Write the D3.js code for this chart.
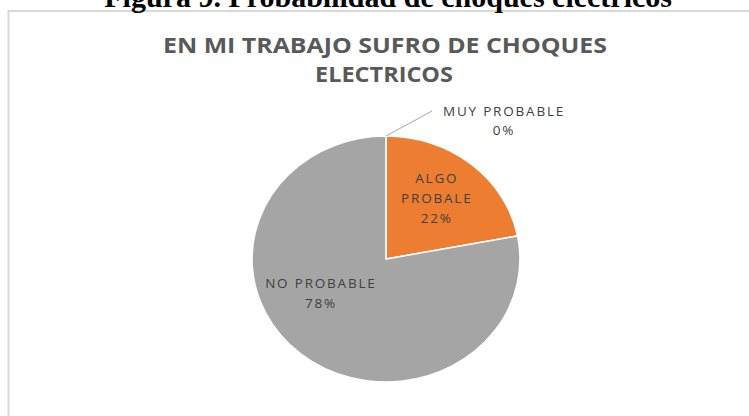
<!DOCTYPE html>
<html>
<head>
<meta charset="utf-8">
<script src="https://cdn.jsdelivr.net/npm/d3@7"></script>
<style>
  body { margin: 0; background: #fff; }
  svg { display: block; }
</style>
</head>
<body>
<div id="chart"></div>
<script>
// Pie of answers to "en mi trabajo sufro de choques electricos"
const categories = ["MUY PROBABLE", "ALGO PROBALE", "NO PROBABLE"]
const values = [0, 22, 78]
const colors = ["#4472c4", "#ed7d31", "#a5a5a5"]
const titleLines = ["EN MI TRABAJO SUFRO DE CHOQUES", "ELECTRICOS"]

const width = 749
const height = 416
// the picture is a bit wider than tall, so the pie is an ellipse
const cx = 386, cy = 259
const ry = 123
const stretch = 134 / 123

var svg = d3.select("#chart").append("svg")
    .attr("width", width)
    .attr("height", height)

// frame of the excel chart (right and bottom edge are off the picture)
svg.append("rect")
    .attr("x", 8.5)
    .attr("y", 11)
    .attr("width", 800)
    .attr("height", 500)
    .attr("fill", "#fff")
    .attr("stroke", "#d9d9d9")
    .attr("stroke-width", 2)

// caption of the figure, only its lower half is in the picture
svg.append("text")
    .attr("x", 672)
    .attr("y", 7)
    .attr("text-anchor", "end")
    .style("font-family", "'Liberation Serif', 'Times New Roman', serif")
    .style("font-weight", "bold")
    .style("font-size", "30px")
    .style("fill", "#000")
    .text("Figura 9. Probabilidad de choques eléctricos")

var title = svg.append("text")
    .attr("text-anchor", "middle")
    .style("font-family", "'Open Sans', sans-serif")
    .style("font-weight", "bold")
    .style("font-size", "21px")
    .style("fill", "#595959")
title.append("tspan").attr("x", 385).attr("y", 53)
    .attr("textLength", 444).attr("lengthAdjust", "spacingAndGlyphs")
    .text(titleLines[0])
title.append("tspan").attr("x", 384).attr("y", 82)
    .attr("textLength", 138).attr("lengthAdjust", "spacingAndGlyphs")
    .text(titleLines[1])

var pie = d3.pie().sort(null).value(d => d)
var arcs = pie(values)

var arc = d3.arc().innerRadius(0).outerRadius(ry)

var g = svg.append("g")
    .attr("transform", "translate(" + cx + "," + cy + ")")

g.append("g")
    .attr("transform", "scale(" + stretch + ",1)")
    .selectAll("path")
    .data(arcs)
    .enter()
    .append("path")
    .attr("d", arc)
    .attr("fill", (d, i) => colors[i])
    .attr("stroke", "#fff")
    .attr("stroke-width", 1.5)

// label radius (fraction of radius) and a small angle shift, like excel places them
const labelRadius = [1.0, 0.625, 0.56]
const labelShift = [0, -0.04, 0.36]

function labelPoint(d, i) {
    var a = (d.startAngle + d.endAngle) / 2 + labelShift[i]
    var r = ry * labelRadius[i]
    return [Math.sin(a) * r * stretch, -Math.cos(a) * r]
}

arcs.forEach(function(d, i) {
    var p = labelPoint(d, i)
    var lines = categories[i].split(" ")
    var pct = Math.round(d.data) + "%"
    var t = g.append("text")
        .attr("text-anchor", "middle")
        .style("font-family", "'Open Sans', sans-serif")
        .style("font-size", "13.5px")
        .style("letter-spacing", "1.8px")
        .style("fill", "#404040")
    if (d.data == 0) {
        // slice of 0% gets a leader line and the label outside
        var lx = p[0] + 46, ly = p[1] - 25
        g.append("line")
            .attr("x1", p[0]).attr("y1", p[1])
            .attr("x2", lx).attr("y2", ly)
            .attr("stroke", "#a6a6a6")
            .attr("stroke-width", 1)
        t.append("tspan").attr("x", lx + 72).attr("y", ly + 5).text(categories[i])
        t.append("tspan").attr("x", lx + 72).attr("y", ly + 24).text(pct)
    } else if (i == 1) {
        t.append("tspan").attr("x", p[0]).attr("y", p[1] - 15).text(lines[0])
        t.append("tspan").attr("x", p[0]).attr("y", p[1] + 5).text(lines[1])
        t.append("tspan").attr("x", p[0]).attr("y", p[1] + 25).text(pct)
    } else {
        t.append("tspan").attr("x", p[0]).attr("y", p[1] - 5).text(categories[i])
        t.append("tspan").attr("x", p[0]).attr("y", p[1] + 15).text(pct)
    }
})
</script>
</body>
</html>
